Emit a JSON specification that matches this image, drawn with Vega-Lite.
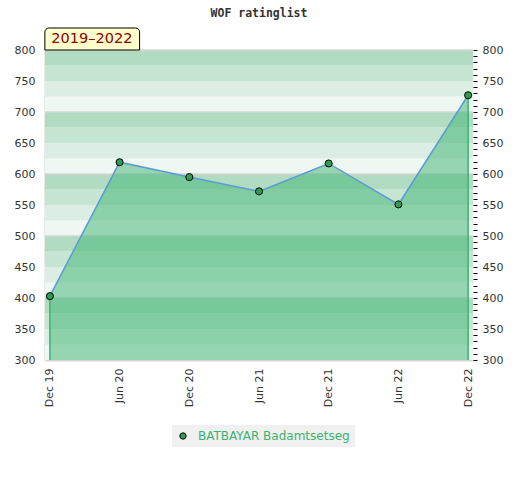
{
  "$schema": "https://vega.github.io/schema/vega-lite/v6.json",
  "width": 428,
  "height": 310,
  "autosize": "none",
  "padding": {"left": 45, "top": 50, "right": 47, "bottom": 120},
  "background": "white",
  "title": {
    "text": "WOF ratinglist",
    "font": "DejaVu Sans Mono",
    "fontSize": 11.5,
    "fontWeight": "bold",
    "color": "#333333",
    "offset": 8
  },
  "config": {
    "view": {"stroke": null},
    "axis": {"labelFont": "DejaVu Sans", "labelFontSize": 11, "labelColor": "#333333", "title": null}
  },
  "datasets": {
    "ratings": [
      {"m": "Dec 19", "rating": 403, "player": "BATBAYAR Badamtsetseg"},
      {"m": "Jun 20", "rating": 619, "player": "BATBAYAR Badamtsetseg"},
      {"m": "Dec 20", "rating": 595, "player": "BATBAYAR Badamtsetseg"},
      {"m": "Jun 21", "rating": 572, "player": "BATBAYAR Badamtsetseg"},
      {"m": "Dec 21", "rating": 617, "player": "BATBAYAR Badamtsetseg"},
      {"m": "Jun 22", "rating": 551, "player": "BATBAYAR Badamtsetseg"},
      {"m": "Dec 22", "rating": 727, "player": "BATBAYAR Badamtsetseg"}
    ],
    "bands": [
      {"from": 300, "to": 325}, {"from": 325, "to": 350}, {"from": 350, "to": 375}, {"from": 375, "to": 400},
      {"from": 400, "to": 425}, {"from": 425, "to": 450}, {"from": 450, "to": 475}, {"from": 475, "to": 500},
      {"from": 500, "to": 525}, {"from": 525, "to": 550}, {"from": 550, "to": 575}, {"from": 575, "to": 600},
      {"from": 600, "to": 625}, {"from": 625, "to": 650}, {"from": 650, "to": 675}, {"from": 675, "to": 700},
      {"from": 700, "to": 725}, {"from": 725, "to": 750}, {"from": 750, "to": 775}, {"from": 775, "to": 800}
    ]
  },
  "layer": [
    {
      "data": {"name": "bands"},
      "transform": [{"calculate": "(datum.from % 100) / 25", "as": "tone"}],
      "mark": {"type": "rect"},
      "encoding": {
        "y": {"field": "from", "type": "quantitative", "axis": null},
        "y2": {"field": "to"},
        "fill": {
          "field": "tone",
          "type": "ordinal",
          "scale": {"domain": [0, 1, 2, 3], "range": ["#eff7f2", "#dceee3", "#c7e5d3", "#b2dcc2"]},
          "legend": null
        }
      }
    },
    {
      "data": {"name": "bands"},
      "transform": [{"filter": "datum.to % 100 == 0"}],
      "mark": {"type": "rule", "color": "#d6d6d6", "strokeWidth": 1.5},
      "encoding": {
        "y": {"field": "to", "type": "quantitative", "axis": null}
      }
    },
    {
      "data": {"name": "ratings"},
      "mark": {"type": "area", "color": "#3cb371", "opacity": 0.5},
      "encoding": {
        "x": {
          "field": "m",
          "type": "ordinal",
          "sort": null,
          "scale": {"type": "point", "padding": 0.07},
          "axis": {"labelAngle": -90, "ticks": false, "labelPadding": 8, "domainColor": "#d6d6d6", "domainWidth": 2, "grid": false}
        },
        "y": {
          "field": "rating",
          "type": "quantitative",
          "scale": {"domain": [300, 800], "nice": false, "zero": false},
          "axis": {"orient": "left", "tickCount": 10, "ticks": false, "labelPadding": 10, "domainColor": "#d6d6d6", "domainWidth": 2, "grid": false}
        },
        "y2": {"datum": 300}
      }
    },
    {
      "data": {"name": "ratings"},
      "transform": [{"filter": "datum.m == 'Dec 19' || datum.m == 'Dec 22'"}],
      "mark": {"type": "rule", "color": "#3cb371", "strokeWidth": 1.5},
      "encoding": {
        "x": {"field": "m", "type": "ordinal", "sort": null},
        "y": {"field": "rating", "type": "quantitative", "axis": null},
        "y2": {"datum": 300}
      }
    },
    {
      "data": {"name": "ratings"},
      "mark": {"type": "line", "color": "#5b9bd5", "strokeWidth": 1.5},
      "encoding": {
        "x": {"field": "m", "type": "ordinal", "sort": null},
        "y": {
          "field": "rating",
          "type": "quantitative",
          "axis": {
            "orient": "right",
            "tickCount": 50,
            "tickSize": 4,
            "tickColor": "#000000",
            "labelPadding": 5,
            "domain": false,
            "grid": false,
            "labelOverlap": false,
            "labelExpr": "datum.value % 50 == 0 ? datum.label : ''"
          }
        }
      }
    },
    {
      "data": {"name": "ratings"},
      "mark": {"type": "circle", "size": 50, "stroke": "#000000", "strokeWidth": 1, "opacity": 1},
      "encoding": {
        "x": {"field": "m", "type": "ordinal", "sort": null},
        "y": {"field": "rating", "type": "quantitative", "axis": null},
        "color": {
          "field": "player",
          "type": "nominal",
          "scale": {"range": ["#2e9e57"]},
          "legend": {
            "title": null,
            "orient": "none",
            "legendX": 127,
            "legendY": 375,
            "fillColor": "#f0f0f0",
            "padding": 5,
            "labelColor": "#3cb371",
            "labelFont": "DejaVu Sans",
            "labelFontSize": 12,
            "labelOffset": 9,
            "symbolType": "circle",
            "symbolSize": 40,
            "symbolStrokeColor": "#000000",
            "symbolStrokeWidth": 1
          }
        }
      }
    },
    {
      "data": {"values": [{"label": "2019–2022"}]},
      "mark": {"type": "rect", "fill": "#ffffcc", "stroke": "#000000", "strokeWidth": 1, "xOffset": -5, "x2Offset": 20, "cornerRadiusTopLeft": 4, "cornerRadiusTopRight": 4},
      "encoding": {
        "x": {"datum": "Dec 19", "type": "ordinal"},
        "x2": {"datum": "Jun 20"},
        "y": {"datum": 800, "type": "quantitative", "axis": null},
        "y2": {"datum": 835.5}
      }
    },
    {
      "data": {"values": [{"label": "2019–2022"}]},
      "mark": {"type": "text", "color": "#8b0000", "font": "DejaVu Sans", "fontSize": 14.5, "align": "center", "baseline": "middle", "dx": 42, "dy": -11},
      "encoding": {
        "x": {"datum": "Dec 19", "type": "ordinal"},
        "y": {"datum": 800, "type": "quantitative", "axis": null},
        "text": {"field": "label", "type": "nominal"}
      }
    }
  ]
}
